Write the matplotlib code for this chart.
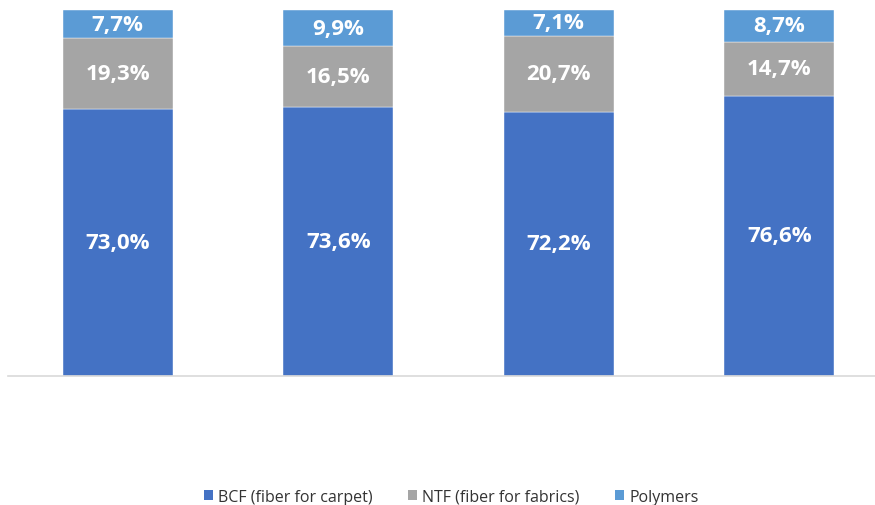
import matplotlib.pyplot as plt
from matplotlib.patches import Patch

# data
categories = ["A", "B", "C", "D"]
bcf = [73.0, 73.6, 72.2, 76.6]
ntf = [19.3, 16.5, 20.7, 14.7]
polymers = [7.7, 9.9, 7.1, 8.7]
series_names = ["BCF (fiber for carpet)", "NTF (fiber for fabrics)", "Polymers"]
colors = ["#4472C4", "#A5A5A5", "#5B9BD5"]

fig = plt.figure(figsize=(8.75, 5.06), dpi=100)
ax = fig.add_axes([7.5 / 875, 129 / 506, 882 / 875, 366 / 506])

x = list(range(len(categories)))
bottom = [0.0] * len(categories)
for vals, col in zip([bcf, ntf, polymers], colors):
    bars = ax.bar(x, vals, width=0.5, bottom=bottom, color=col,
                  edgecolor="white", linewidth=0.3)
    for xi, b, v in zip(x, bottom, vals):
        ax.text(xi, b + v / 2, f"{v:.1f}%".replace(".", ","), ha="center",
                va="center", color="white", fontsize=16, fontweight="bold",
                family=["Open Sans", "DejaVu Sans"])
    bottom = [b + v for b, v in zip(bottom, vals)]

ax.set_xlim(-0.5, 3.5)
ax.set_ylim(0, 100)
ax.set_xticks([])
ax.set_yticks([])
for s in ["top", "right", "left"]:
    ax.spines[s].set_visible(False)
ax.spines["bottom"].set_color("#D9D9D9")
ax.spines["bottom"].set_linewidth(1.2)

handles = [Patch(facecolor=c, edgecolor="none") for c in colors]
fig.legend(handles, series_names, loc="center", bbox_to_anchor=(451 / 875, 1 - 498 / 506),
           ncol=3, frameon=False, handlelength=0.6, handleheight=0.6,
           handletextpad=0.3, columnspacing=2.2, labelcolor="#333333",
           prop={"family": ["Open Sans", "DejaVu Sans"], "size": 11.5})

fig.savefig("out.png", dpi=100)
